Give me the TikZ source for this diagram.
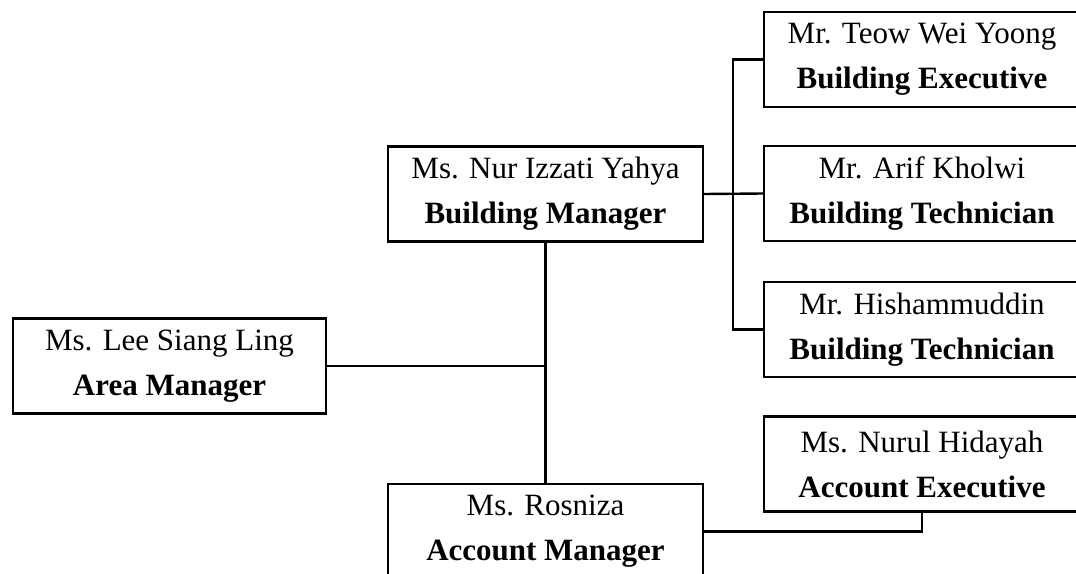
\documentclass[tikz,border=0pt]{standalone}
\usepackage{fontspec}
\setmainfont{Liberation Serif}
\begin{document}
\begin{tikzpicture}[x=1pt,y=-1pt,line width=2.4pt,
  staffbox/.style={draw,align=center,inner sep=0pt,minimum width=316pt,minimum height=95pt,font=\fontsize{31}{45}\selectfont}]
\useasboundingbox (0,0) rectangle (1076,573);
\clip (0,0) rectangle (1076,573);
\node[staffbox,minimum width=315pt] (bm) at (545.5,194) {Ms. Nur Izzati Yahya\\\textbf{Building Manager}};
\node[staffbox,minimum width=313pt] (am) at (169.5,366) {Ms. Lee Siang Ling\\\textbf{Area Manager}};
\node[staffbox,minimum width=315pt] (acm) at (545.5,531.5) {Ms. Rosniza\\\textbf{Account Manager}};
\node[staffbox] (te) at (922,59.5) {Mr. Teow Wei Yoong\\\textbf{Building Executive}};
\node[staffbox] (ak) at (922,193.5) {Mr. Arif Kholwi\\\textbf{Building Technician}};
\node[staffbox] (hi) at (922,329.5) {Mr. Hishammuddin\\\textbf{Building Technician}};
\node[staffbox] (nh) at (922,464) {Ms. Nurul Hidayah\\\textbf{Account Executive}};
\draw (bm.east) -- (ak.west);
\draw (te.west) -- ++(-30,0) |- (hi.west);
\draw (bm.south) -- (acm.north);
\draw (am.east) -- (bm.south |- am.east);
\draw (acm.east) -| (nh.south);
\end{tikzpicture}
\end{document}
